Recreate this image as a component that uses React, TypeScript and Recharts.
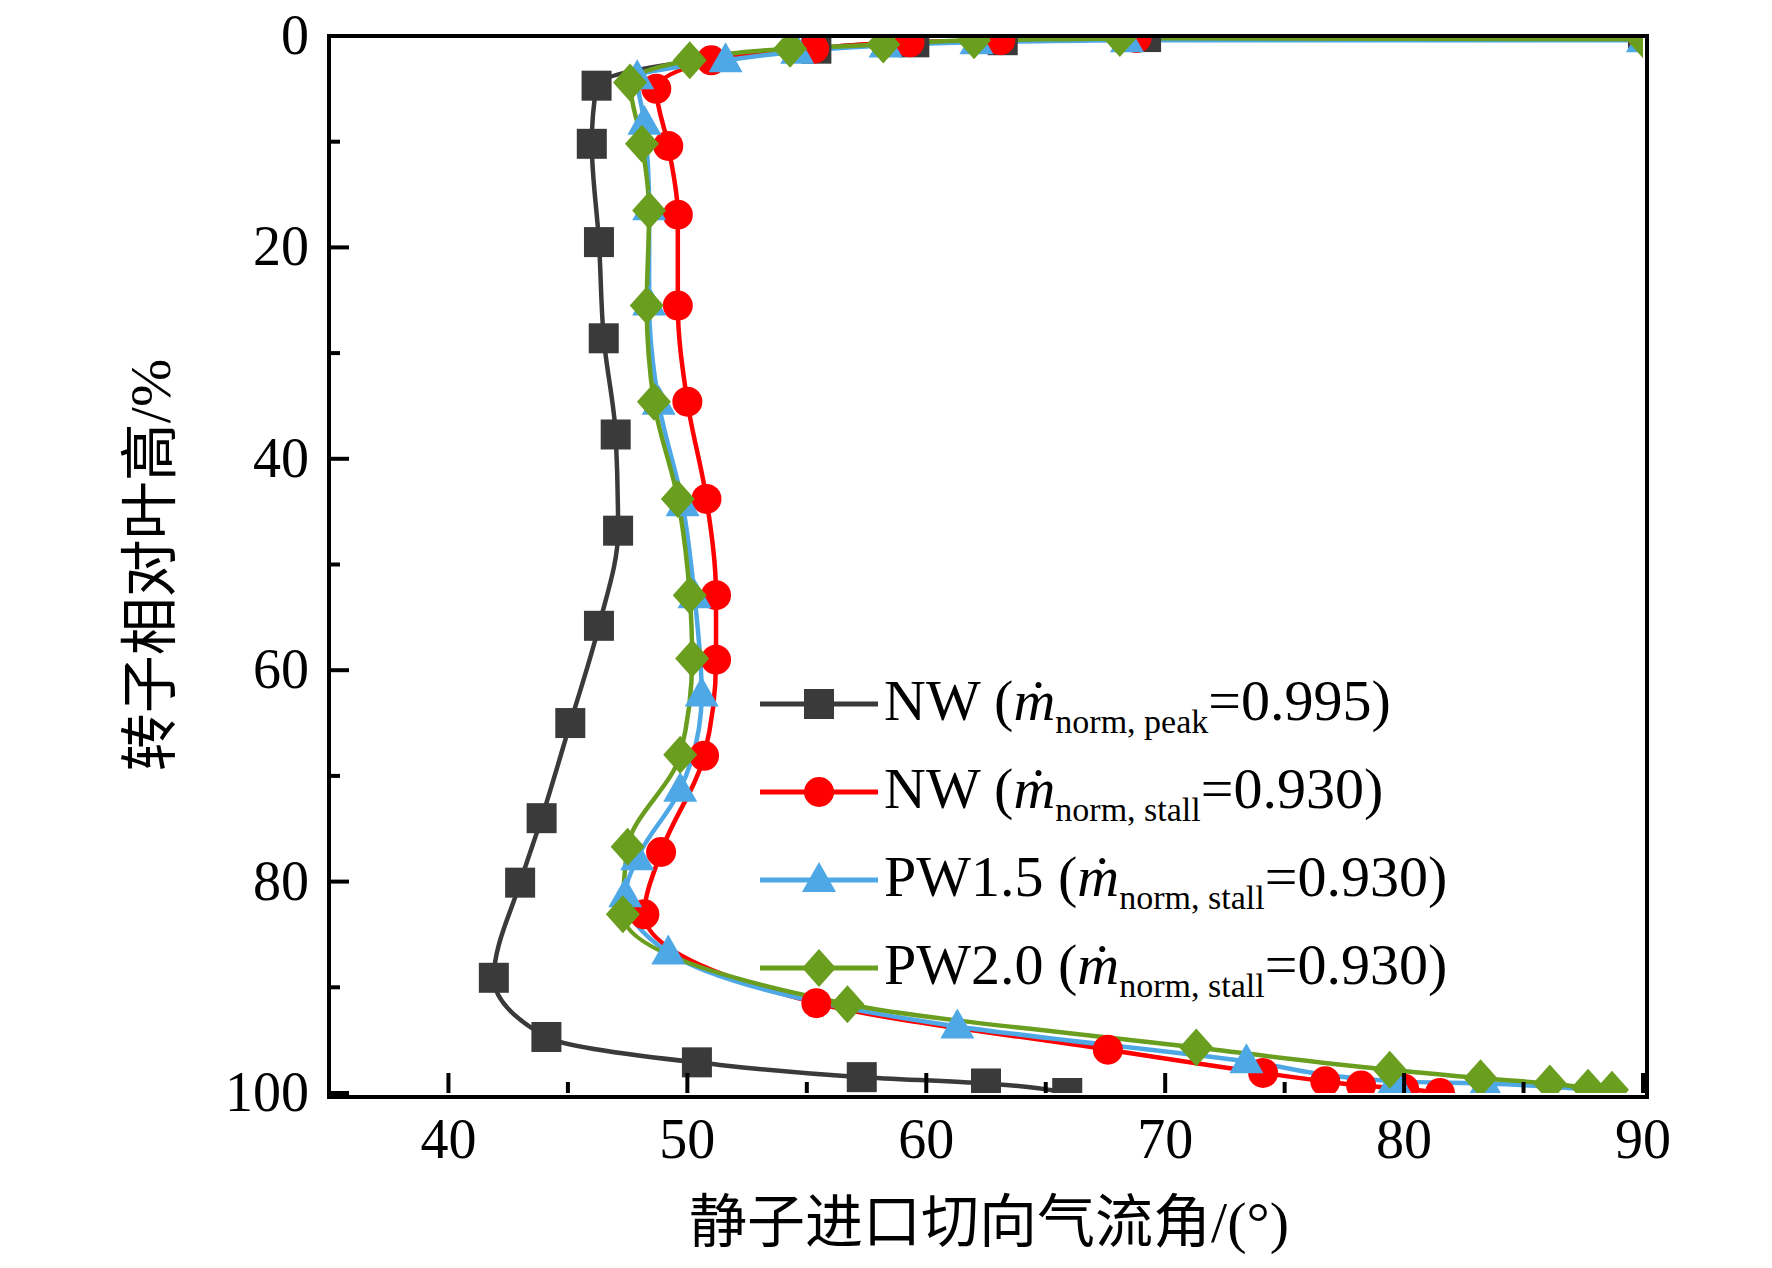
import React from 'react';
import { LineChart, Line, XAxis, YAxis } from 'recharts';

const nwPeakX = [65.9, 62.5, 57.3, 50.4, 44.1, 41.9, 43.0, 43.9, 45.1, 46.3, 47.1, 47.0, 46.5, 46.3, 46.0, 46.2, 55.4, 59.5, 63.2, 69.2, 90];
const nwPeakY = [100, 99.1, 98.5, 97.1, 94.7, 89.1, 80.1, 74, 65, 55.8, 46.8, 37.7, 28.6, 19.5, 10.2, 4.7, 1.2, 0.6, 0.4, 0.1, 0];

const nwStallX = [81.5, 80.0, 78.2, 76.7, 74.1, 67.6, 55.4, 48.2, 48.9, 50.7, 51.2, 51.2, 50.8, 50.0, 49.6, 49.6, 49.2, 48.7, 51.0, 55.3, 59.3, 63.1, 68.8, 90];
const nwStallY = [100, 99.6, 99.3, 98.9, 98.1, 95.9, 91.5, 83.1, 77.2, 68.1, 59, 52.9, 43.8, 34.6, 25.5, 16.9, 10.4, 5, 2.3, 1.2, 0.6, 0.4, 0.2, 0.1];

const pw15X = [88.7, 83.4, 79.6, 73.4, 61.3, 49.2, 47.4, 47.9, 49.7, 50.6, 50.3, 49.8, 48.8, 48.4, 48.4, 48.2, 47.9, 51.6, 54.6, 58.3, 62.1, 68.4, 90];
const pw15Y = [100, 99.1, 98.9, 97, 93.7, 86.7, 81.3, 77.8, 71.3, 62.3, 53, 44.3, 34.7, 25.3, 16.3, 8.2, 3.9, 2.3, 1.5, 0.9, 0.6, 0.4, 0.4];

const pw20X = [88.7, 87.7, 86.1, 83.2, 79.4, 71.3, 56.7, 47.3, 47.5, 49.7, 50.2, 50.1, 49.6, 48.6, 48.3, 48.4, 48.1, 47.6, 50.1, 54.3, 58.2, 62.0, 68.1, 90];
const pw20Y = [99.7, 99.5, 99.1, 98.6, 97.8, 95.7, 91.6, 83.1, 76.7, 68, 58.9, 52.9, 43.8, 34.6, 25.5, 16.5, 10.2, 4.4, 2.3, 1.2, 0.8, 0.4, 0.2, 0.3];

const xTicks = [35, 40, 45, 50, 55, 60, 65, 70, 75, 80, 85, 90];
const yTicks = [0, 10, 20, 30, 40, 50, 60, 70, 80, 90, 100];

const toRows = (xs: number[], ys: number[]) => xs.map((x, i) => ({ x, y: ys[i] }));

const FONT = '"Liberation Serif", "Noto Sans CJK SC", serif';

// plot box in page pixels
const PL = 329, PR = 1643, PT = 36, PB = 1093;

const Square = (props: any) => {
  const { cx, cy, fill } = props;
  if (cx == null) return null;
  return <rect x={cx - 15} y={cy - 15} width={30} height={30} fill={fill} />;
};
const Circle = (props: any) => {
  const { cx, cy, fill } = props;
  if (cx == null) return null;
  return <circle cx={cx} cy={cy} r={15} fill={fill} />;
};
const Tri = (props: any) => {
  const { cx, cy, fill } = props;
  if (cx == null) return null;
  return <polygon points={`${cx},${cy - 18} ${cx - 17},${cy + 12} ${cx + 17},${cy + 12}`} fill={fill} />;
};
const Diamond = (props: any) => {
  const { cx, cy, fill } = props;
  if (cx == null) return null;
  return <polygon points={`${cx},${cy - 19} ${cx + 17},${cy} ${cx},${cy + 19} ${cx - 17},${cy}`} fill={fill} />;
};

const XTick = (props: any) => {
  const { x, payload } = props;
  const v = payload.value;
  const major = v % 10 === 0;
  return (
    <g>
      <line x1={x} x2={x} y1={PB} y2={PB - (major ? 20 : 11)} stroke="#000" strokeWidth={4} />
      {major && (
        <text x={x} y={PB + 65} textAnchor="middle" fontSize={56} fontFamily={FONT} fill="#000">{v}</text>
      )}
    </g>
  );
};
const YTick = (props: any) => {
  const { y, payload } = props;
  const v = payload.value;
  const major = v % 20 === 0;
  return (
    <g>
      <line x1={PL} x2={PL + (major ? 20 : 11)} y1={y} y2={y} stroke="#000" strokeWidth={4} />
      {major && (
        <text x={PL - 20} y={y + 18} textAnchor="end" fontSize={56} fontFamily={FONT} fill="#000">{v}</text>
      )}
    </g>
  );
};

const legendItems = [
  { name: 'NW', sub: 'norm, peak', val: '0.995', color: '#3a3a3a', shape: 'sq' },
  { name: 'NW', sub: 'norm, stall', val: '0.930', color: '#ff0000', shape: 'ci' },
  { name: 'PW1.5', sub: 'norm, stall', val: '0.930', color: '#4ea8e6', shape: 'tr' },
  { name: 'PW2.0', sub: 'norm, stall', val: '0.930', color: '#6a9e1f', shape: 'di' },
];

export default function App() {
  const series = [
    { key: 'a', data: toRows(nwPeakX, nwPeakY), color: '#3a3a3a', dot: Square },
    { key: 'b', data: toRows(nwStallX, nwStallY), color: '#ff0000', dot: Circle },
    { key: 'c', data: toRows(pw15X, pw15Y), color: '#4ea8e6', dot: Tri },
    { key: 'd', data: toRows(pw20X, pw20Y), color: '#6a9e1f', dot: Diamond },
  ];
  return (
    <div style={{ position: 'absolute', left: 0, top: 0, width: 1772, height: 1268, background: '#fff', fontFamily: FONT, overflow: 'hidden' }}>
      <LineChart width={1772} height={1268} layout="vertical" margin={{ top: PT, left: PL - 1, right: 1772 - PR, bottom: 1268 - PB - 1 }}>
        <XAxis type="number" dataKey="x" domain={[35, 90]} ticks={xTicks} interval={0} height={1} tickLine={false}
          axisLine={false} tick={<XTick />} allowDataOverflow />
        <YAxis type="number" dataKey="y" domain={[0, 100]} ticks={yTicks} interval={0} width={1} tickLine={false}
          axisLine={false} tick={<YTick />} allowDataOverflow />
        {series.map((s) => (
          <Line key={s.key} data={s.data} dataKey="x" type="monotone" stroke={s.color} strokeWidth={4.5}
            dot={<s.dot fill={s.color} />} isAnimationActive={false} />
        ))}
      </LineChart>
      <div style={{ position: 'absolute', left: PL - 2, top: PT - 2, width: PR - PL, height: PB - PT, border: '4px solid #000', pointerEvents: 'none' }} />
      <div style={{ position: 'absolute', left: 989, top: 1175, transform: 'translateX(-50%)', fontSize: 58, whiteSpace: 'nowrap' }}>
        静子进口切向气流角/(°)
      </div>
      <div style={{ position: 'absolute', left: 145, top: 565, transform: 'translate(-50%, -50%) rotate(-90deg)', fontSize: 58, whiteSpace: 'nowrap' }}>
        转子相对叶高/%
      </div>
      <div style={{ position: 'absolute', left: 760, top: 660 }}>
        {legendItems.map((it, i) => (
          <div key={i} style={{ display: 'flex', alignItems: 'center', height: 88 }}>
            <svg width={118} height={44}>
              <line x1={0} x2={118} y1={22} y2={22} stroke={it.color} strokeWidth={5} />
              {it.shape === 'sq' && <rect x={44} y={7} width={30} height={30} fill={it.color} />}
              {it.shape === 'ci' && <circle cx={59} cy={22} r={15} fill={it.color} />}
              {it.shape === 'tr' && <polygon points="59,4 42,34 76,34" fill={it.color} />}
              {it.shape === 'di' && <polygon points="59,3 76,22 59,41 42,22" fill={it.color} />}
            </svg>
            <span style={{ fontSize: 58, marginLeft: 6, whiteSpace: 'nowrap' }}>
              {it.name} (<i>ṁ</i><sub style={{ fontSize: 34 }}>{it.sub}</sub>={it.val})
            </span>
          </div>
        ))}
      </div>
    </div>
  );
}
